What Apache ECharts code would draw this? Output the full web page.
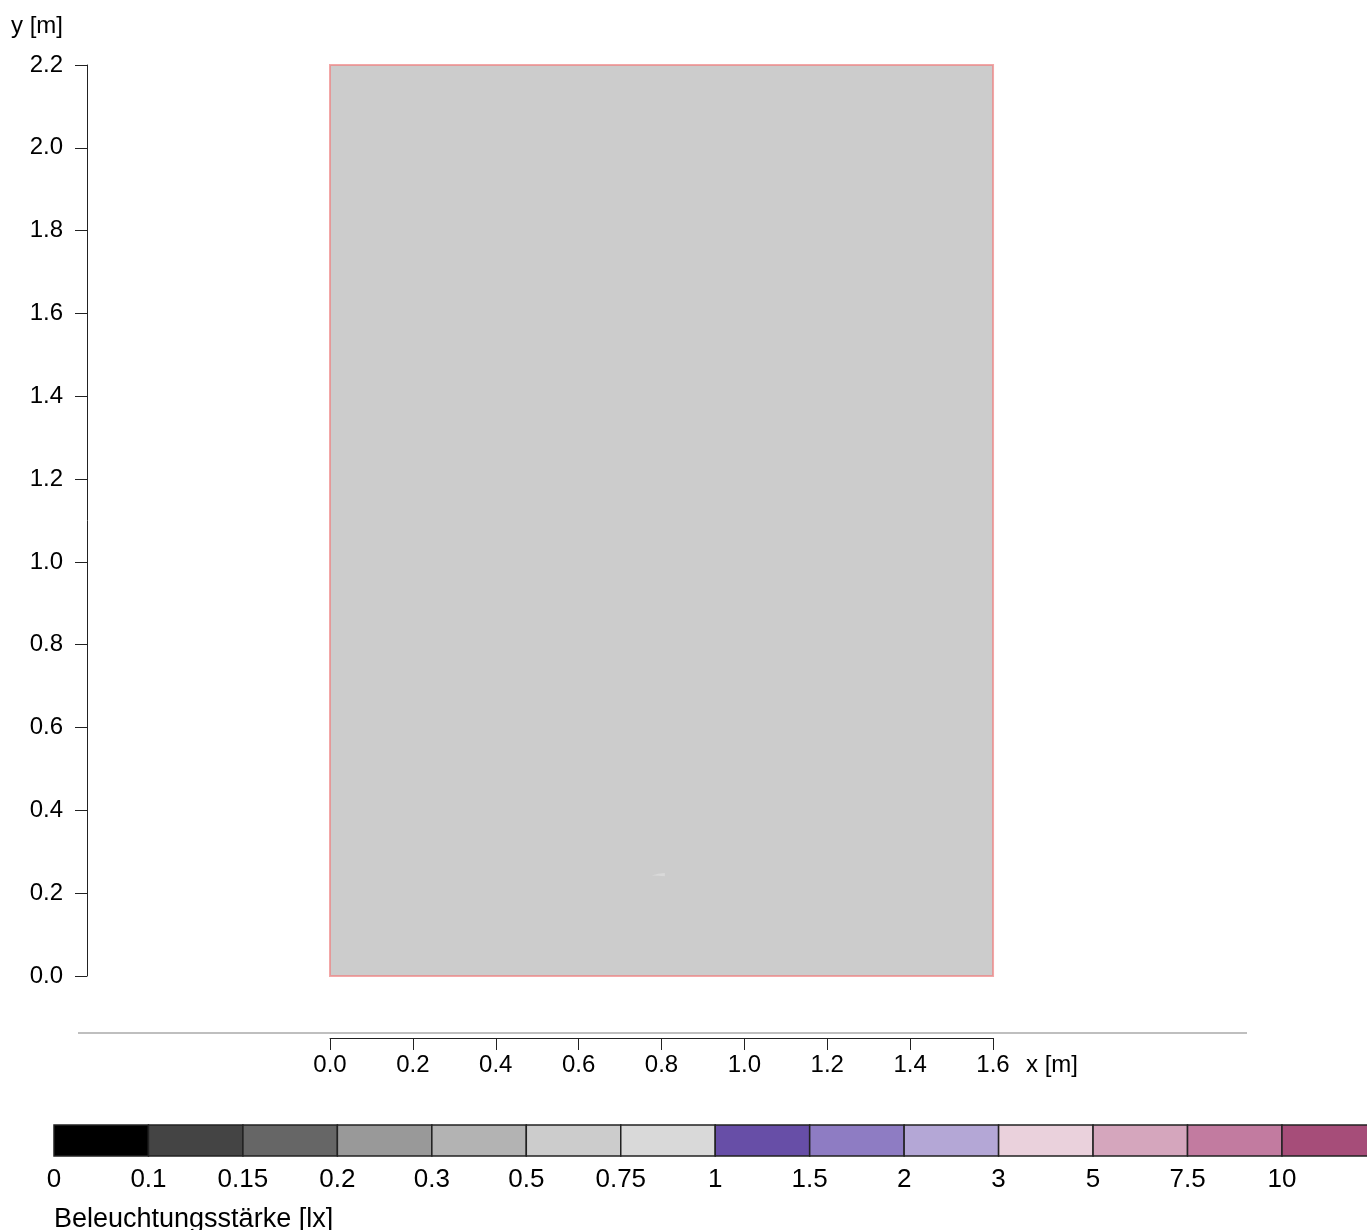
<!DOCTYPE html>
<html>
<head>
<meta charset="utf-8">
<script src="https://cdn.jsdelivr.net/npm/echarts@6/dist/echarts.min.js"></script>
<style>html,body{margin:0;padding:0;background:#fff}#c{width:1367px;height:1230px}</style>
</head>
<body>
<div id="c"></div>
<script>
// ---- data ----
var yTicks = [0, 0.2, 0.4, 0.6, 0.8, 1.0, 1.2, 1.4, 1.6, 1.8, 2.0, 2.2];
var xTicks = [0, 0.2, 0.4, 0.6, 0.8, 1.0, 1.2, 1.4, 1.6];
// calculation area outline (x, y in m)
var areaOutline = [[0, 0], [1.6, 0], [1.6, 2.2], [0, 2.2]];
var areaValueClass = 5; // 0.5 - 0.75 lx
// tiny patch of higher value
var patchOutline = [[0.776, 0.243], [0.792, 0.247], [0.808, 0.249], [0.808, 0.241], [0.792, 0.242]];
var patchValueClass = 6; // 0.75 - 1 lx
// legend classes
var legendBreaks = ['0', '0.1', '0.15', '0.2', '0.3', '0.5', '0.75', '1', '1.5', '2', '3', '5', '7.5', '10', ''];
var legendColors = ['#000000', '#444444', '#666666', '#999999', '#b3b3b3', '#cccccc', '#d9d9d9',
  '#674ea7', '#8e7cc3', '#b4a7d6', '#ead1dc', '#d5a6bd', '#c27ba0', '#a64d79'];
var legendTitle = 'Beleuchtungsstärke [lx]';

var FONT = 'Liberation Sans, Arial, sans-serif';
var AX = 24, LG = 26;
var chart = echarts.init(document.getElementById('c'), null, {renderer: 'canvas'});

function polyRender(points, color, stroke, lw) {
  return function (params, api) {
    var pts = points.map(function (p) { return api.coord(p); });
    return {
      type: 'polygon',
      shape: {points: pts},
      style: {fill: color, stroke: stroke, lineWidth: lw}
    };
  };
}

var option = {
  animation: false,
  title: {
    text: legendTitle, left: 49, top: 1201,
    textStyle: {fontFamily: FONT, fontSize: 27, fontWeight: 'normal', color: '#000'}
  },
  grid: [
    {left: 87, top: 65, width: 1160, height: 911},
    {left: 330, top: 1000, width: 663, height: 38},
    {left: 54, top: 1125, width: 1313, height: 31}
  ],
  xAxis: [
    {gridIndex: 0, type: 'value', min: -243 / 414.4, max: 917 / 414.4, show: false},
    {
      gridIndex: 1, type: 'value', min: 0, max: 1.6, interval: 0.2, position: 'bottom',
      name: 'x [m]', nameLocation: 'end', nameGap: 33,
      nameTextStyle: {fontFamily: FONT, fontSize: AX, color: '#000', verticalAlign: 'top', align: 'left', padding: [15, 0, 0, 0]},
      axisLine: {show: true, onZero: false, lineStyle: {color: '#222', width: 1}},
      axisTick: {show: true, inside: false, length: 12, lineStyle: {color: '#222'}},
      axisLabel: {fontFamily: FONT, fontSize: AX, color: '#000', margin: 15,
        formatter: function (v) { return v.toFixed(1); }},
      splitLine: {show: false}
    },
    {
      gridIndex: 2, type: 'value', min: 0, max: 1313 / 94.46, interval: 1, position: 'bottom',
      axisLine: {show: false}, axisTick: {show: false}, splitLine: {show: false},
      axisLabel: {fontFamily: FONT, fontSize: LG, color: '#000', margin: 11, showMaxLabel: false,
        formatter: function (v) { return legendBreaks[Math.round(v)]; }}
    }
  ],
  yAxis: [
    {
      gridIndex: 0, type: 'value', min: 0, max: 2.2, interval: 0.2,
      name: 'y [m]', nameLocation: 'end', nameGap: 27,
      nameTextStyle: {fontFamily: FONT, fontSize: AX, color: '#000', align: 'right', padding: [0, 24, 0, 0]},
      axisLine: {show: true, onZero: false, lineStyle: {color: '#222', width: 1}},
      axisTick: {show: true, inside: false, length: 12, lineStyle: {color: '#222'}},
      axisLabel: {fontFamily: FONT, fontSize: AX, color: '#000', margin: 24,
        formatter: function (v) { return v.toFixed(1); }},
      splitLine: {show: false}
    },
    {gridIndex: 1, type: 'value', min: 0, max: 1, show: false},
    {gridIndex: 2, type: 'value', min: 0, max: 1, show: false}
  ],
  graphic: [
    {type: 'line', shape: {x1: 78, y1: 1033, x2: 1247, y2: 1033}, style: {stroke: '#aaaaaa', lineWidth: 1.5}, silent: true}
  ],
  series: [
    {
      type: 'custom', xAxisIndex: 0, yAxisIndex: 0, clip: false,
      data: [0],
      renderItem: polyRender(areaOutline, legendColors[areaValueClass], 'rgba(238,130,130,0.7)', 2)
    },
    {
      type: 'custom', xAxisIndex: 0, yAxisIndex: 0, clip: false,
      data: [0],
      renderItem: polyRender(patchOutline, legendColors[patchValueClass], 'rgba(0,0,0,0)', 0)
    },
    {
      type: 'custom', xAxisIndex: 2, yAxisIndex: 2, clip: false,
      data: legendColors.map(function (c, i) { return [i, c]; }),
      renderItem: function (params, api) {
        var i = api.value(0);
        var p0 = api.coord([i, 1]);
        var p1 = api.coord([i + 1, 0]);
        return {
          type: 'rect',
          shape: {x: p0[0], y: p0[1], width: p1[0] - p0[0], height: p1[1] - p0[1]},
          style: {fill: legendColors[i], stroke: '#222', lineWidth: 1.5}
        };
      }
    }
  ]
};
chart.setOption(option);
</script>
</body>
</html>
